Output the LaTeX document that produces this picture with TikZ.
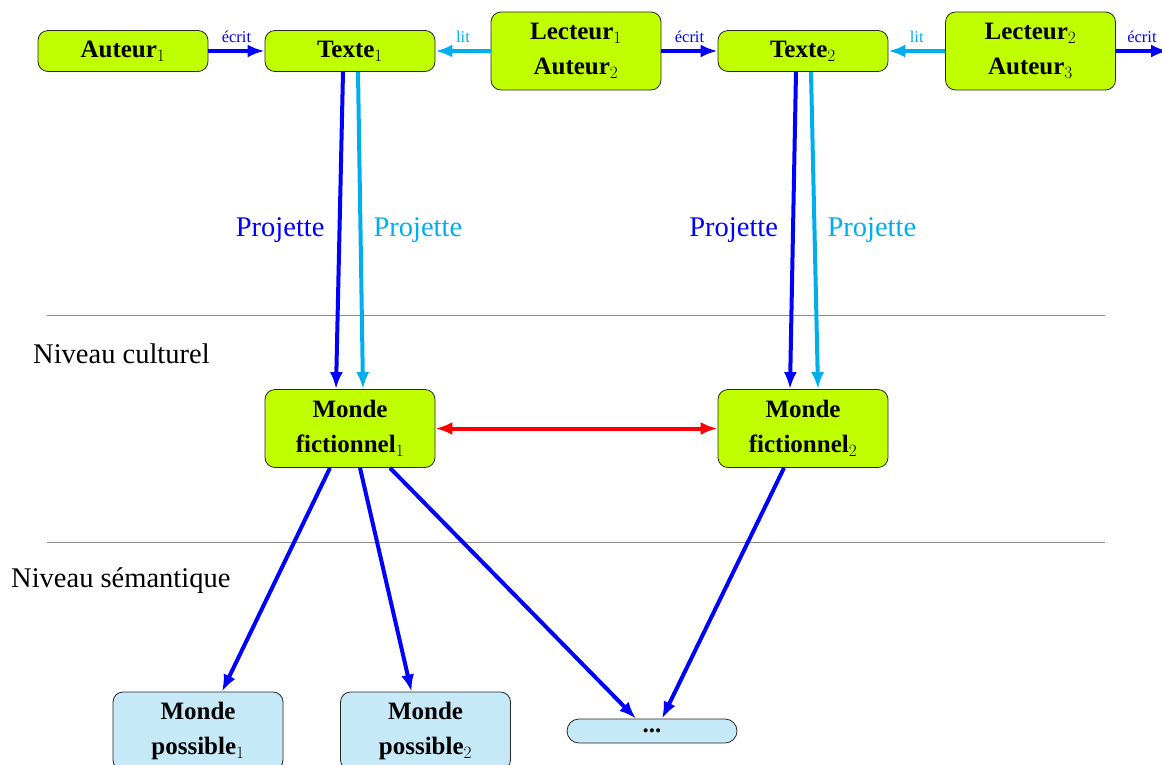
\documentclass[tikz,border=0pt]{standalone}
\usepackage[no-math]{fontspec}
\setmainfont{Liberation Serif}
\DeclareMathSizes{25}{25}{18}{13}
\usetikzlibrary{arrows.meta}
\definecolor{lime}{RGB}{191,255,0}
\definecolor{pale}{RGB}{198,233,248}
\definecolor{sky}{RGB}{0,174,239}
\definecolor{pureblue}{RGB}{0,0,255}
\definecolor{sepgray}{RGB}{140,140,140}
\tikzset{
  box/.style={draw=black!85, line width=0.8pt, rounded corners=10pt, fill=lime,
    minimum width=170pt, minimum height=41pt, inner sep=0pt, align=center,
    font=\fontsize{25}{35}\selectfont\bfseries},
  tall/.style={minimum height=78pt},
  possible/.style={box, fill=pale},
  barr/.style={draw=pureblue, line width=4pt, -{Latex[length=17pt,width=13pt]}},
  carr/.style={barr, draw=sky},
  redarr/.style={draw=red, line width=4pt, {Latex[length=17pt,width=13pt]}-{Latex[length=17pt,width=13pt]}},
  small/.style={font=\fontsize{16.5}{18}\selectfont, anchor=base, yshift=9pt, inner sep=0pt},
  big/.style={font=\fontsize{28.5}{32}\selectfont, inner sep=0pt},
  sep/.style={draw=sepgray, line width=0.8pt},
}
\begin{document}
\begin{tikzpicture}[x=1pt,y=-1pt]
\useasboundingbox (0,0) rectangle (1162,764);
% separators
\coordinate (s1a) at (47,315); \coordinate (s1b) at (1105,315);
\coordinate (s2a) at (47,542); \coordinate (s2b) at (1105,542);
\draw[sep] (s1a) -- (s1b);
\draw[sep] (s2a) -- (s2b);
\node[big, anchor=base west] (nc) at (33,363) {Niveau culturel};
\node[big, anchor=base west] (ns) at (11,587) {Niveau sémantique};
% nodes
\node[box] (A1) at (123,51) {Auteur$_1$};
\node[box] (T1) at (350,51) {Texte$_1$};
\node[box,tall] (L1) at (576,51) {Lecteur$_1$\\Auteur$_2$};
\node[box] (T2) at (803,51) {Texte$_2$};
\node[box,tall] (L2) at (1030.5,51) {Lecteur$_2$\\Auteur$_3$};
\coordinate (out) at (1168,51);
\node[box,tall] (F1) at (350,428.5) {Monde\\fictionnel$_1$};
\node[box,tall] (F2) at (803,428.5) {Monde\\fictionnel$_2$};
\node[possible,tall] (P1) at (198,731) {Monde\\possible$_1$};
\node[possible,tall] (P2) at (425.5,731) {Monde\\possible$_2$};
\node[possible, minimum height=24pt, rounded corners=12pt] (P3) at (652,731) {...};
% top arrows
\draw[barr] (A1.east) -- node[small, text=pureblue]{écrit} (T1.west);
\draw[carr] (L1.west) -- node[small, text=sky]{lit} (T1.east);
\draw[barr] (L1.east) -- node[small, text=pureblue]{écrit} (T2.west);
\draw[carr] (L2.west) -- node[small, text=sky]{lit} (T2.east);
\draw[barr] (L2.east) -- node[small, text=pureblue]{écrit} (out);
% projections
\draw[barr] ([xshift=-7pt]T1.south) -- node[big, text=pureblue, anchor=east, xshift=-13pt]{Projette} ([xshift=-14pt]F1.north);
\draw[carr] ([xshift=8pt]T1.south) -- node[big, text=sky, anchor=west, xshift=11pt]{Projette} ([xshift=13pt]F1.north);
\draw[barr] ([xshift=-7pt]T2.south) -- node[big, text=pureblue, anchor=east, xshift=-13pt]{Projette} ([xshift=-13pt]F2.north);
\draw[carr] ([xshift=8pt]T2.south) -- node[big, text=sky, anchor=west, xshift=11pt]{Projette} ([xshift=15pt]F2.north);
% worlds
\draw[redarr] (F1.east) -- (F2.west);
\draw[barr] ([xshift=-20pt]F1.south) -- ([xshift=24pt]P1.north);
\draw[barr] ([xshift=10pt]F1.south) -- ([xshift=-14pt]P2.north);
\draw[barr] ([xshift=40pt]F1.south) -- ([xshift=-16pt]P3.north);
\draw[barr] ([xshift=-19pt]F2.south) -- ([xshift=10pt]P3.north);
\end{tikzpicture}
\end{document}
